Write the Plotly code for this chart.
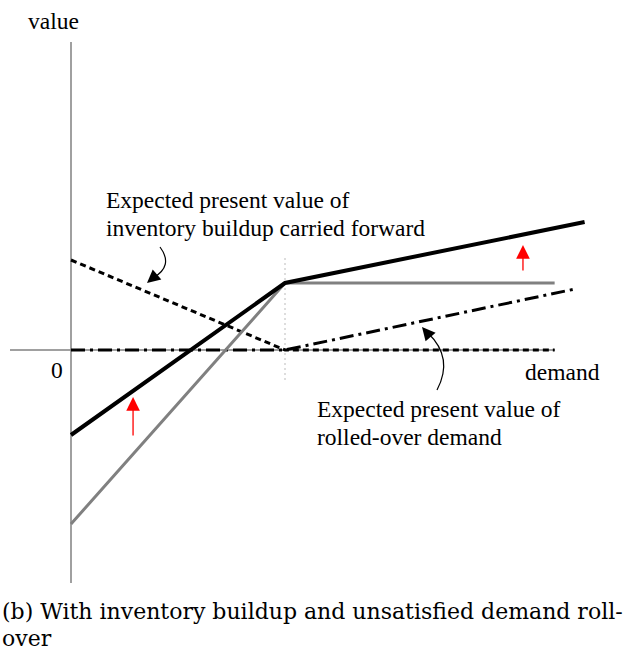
import plotly.graph_objects as go

# ---- data (demand in units of the kink, value in arbitrary units) ----
total_x = [0.0, 1.0, 2.40]
total_y = [-0.85, 0.67, 1.28]

base_x = [0.0, 1.0, 2.26]
base_y = [-1.74, 0.67, 0.67]

inv_x = [0.0, 1.0, 2.26]
inv_y = [0.90, 0.0, 0.0]

roll_x = [0.0, 1.0, 2.355]
roll_y = [0.0, 0.0, 0.61]

up_arrow_x = [0.29, 2.112]
up_arrow_from = [-0.87, 0.78]
up_arrow_to = [-0.47, 1.05]

W, H = 623, 651
PX = 214.0   # px per demand unit
PY = 100.0   # px per value unit
X0, Y0 = 71, 350
xr = [-X0 / PX, (W - X0) / PX]
yr = [(Y0 - H) / PY, Y0 / PY]

def dx(px):
    return (px - X0) / PX

def dy(py):
    return (Y0 - py) / PY

serif = "Liberation Serif"

fig = go.Figure()

shapes = [
    # axes
    dict(type="line", x0=0, x1=0, y0=dy(583), y1=dy(42), line=dict(color="#808080", width=1.5), layer="below"),
    dict(type="line", x0=dx(10), x1=dx(555), y0=0, y1=0, line=dict(color="#808080", width=1.5), layer="below"),
    # kink guide
    dict(type="line", x0=1, x1=1, y0=dy(380), y1=dy(258), line=dict(color="#bbbbbb", width=1, dash="2px,3px"), layer="below"),
    # curved pointers
    dict(type="path", path=f"M {dx(160)},{dy(247)} Q {dx(174)},{dy(266)} {dx(153)},{dy(278)}",
         line=dict(color="black", width=1.2)),
    dict(type="path", path=f"M {dx(437)},{dy(390)} Q {dx(454)},{dy(358)} {dx(428)},{dy(333)}",
         line=dict(color="black", width=1.2)),
]

fig.add_trace(go.Scatter(x=roll_x, y=roll_y, mode="lines",
                         line=dict(color="black", width=3, dash="14px,5px,3px,5px"), hoverinfo="skip"))
fig.add_trace(go.Scatter(x=inv_x, y=inv_y, mode="lines",
                         line=dict(color="black", width=3, dash="6px,4px"), hoverinfo="skip"))
fig.add_trace(go.Scatter(x=base_x, y=base_y, mode="lines",
                         line=dict(color="#808080", width=3), hoverinfo="skip"))
fig.add_trace(go.Scatter(x=total_x, y=total_y, mode="lines",
                         line=dict(color="black", width=4), hoverinfo="skip"))

ann = []
for xa, y1, y2 in zip(up_arrow_x, up_arrow_from, up_arrow_to):
    ann.append(dict(x=xa, y=y2, ax=xa, ay=y1, xref="x", yref="y", axref="x", ayref="y",
                    showarrow=True, arrowhead=2, arrowsize=2.1, arrowwidth=1.3, arrowcolor="red", text=""))
# arrowheads for curved pointers
ann.append(dict(x=dx(147), y=dy(283), ax=7, ay=-6, showarrow=True, arrowhead=2, arrowsize=2.2,
                arrowwidth=1.2, arrowcolor="black", text=""))
ann.append(dict(x=dx(422), y=dy(327), ax=6, ay=7, showarrow=True, arrowhead=2, arrowsize=2.2,
                arrowwidth=1.2, arrowcolor="black", text=""))

def label(txt, px, py, size=23.5, anchor="left"):
    ann.append(dict(x=dx(px), y=dy(py), text=txt, showarrow=False, xanchor=anchor, yanchor="middle",
                    font=dict(family=serif, size=size, color="black")))

label("value", 26, 21)
label("0", 49, 370)
label("demand", 523, 372)
label("Expected present value of", 104, 200)
label("inventory buildup carried forward", 104, 228)
label("Expected present value of", 315, 409)
label("rolled-over demand", 315, 437)

cap_font = dict(family="DejaVu Serif", size=22, color="black")
ann.append(dict(x=0.0, y=1 - 611 / H, xref="paper", yref="paper", xanchor="left", yanchor="middle",
                text="(b) With inventory buildup and unsatisfied demand roll-", showarrow=False, font=cap_font))
ann.append(dict(x=0.0, y=1 - 638 / H, xref="paper", yref="paper", xanchor="left", yanchor="middle",
                text="over", showarrow=False, font=cap_font))

fig.update_layout(
    width=W, height=H, margin=dict(l=0, r=0, t=0, b=0),
    paper_bgcolor="white", plot_bgcolor="white", showlegend=False,
    xaxis=dict(range=xr, visible=False, fixedrange=True),
    yaxis=dict(range=yr, visible=False, fixedrange=True),
    shapes=shapes, annotations=ann,
)

fig.write_html("out.html", config={"displayModeBar": False},
               post_script="document.body.style.margin='0px';document.body.style.overflow='hidden';")
